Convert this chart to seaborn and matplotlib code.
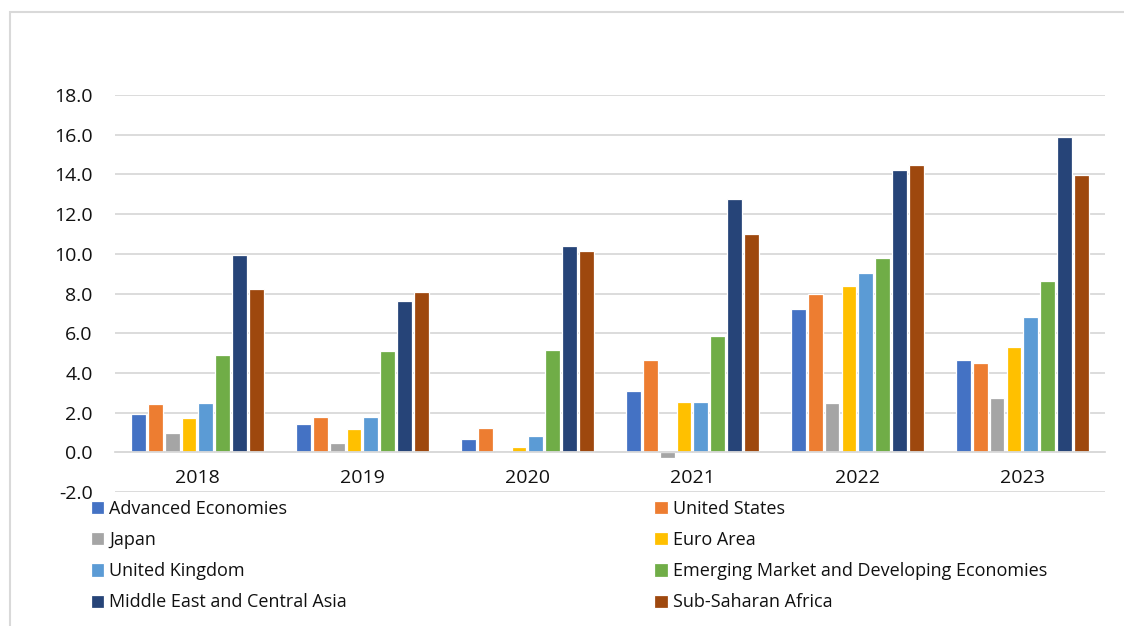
import pandas as pd
import matplotlib
matplotlib.use("Agg")
import matplotlib.pyplot as plt
import seaborn as sns
from matplotlib.patches import Rectangle
from matplotlib.ticker import FormatStrFormatter

# ==========================
# Data
# ==========================
years = ["2018", "2019", "2020", "2021", "2022", "2023"]

regions = [
    "Advanced Economies",
    "United States",
    "Japan",
    "Euro Area",
    "United Kingdom",
    "Emerging Market and Developing Economies",
    "Middle East and Central Asia",
    "Sub-Saharan Africa",
]

advanced = [1.95, 1.41, 0.67, 3.08, 7.24, 4.64]
united_states = [2.44, 1.80, 1.24, 4.66, 7.97, 4.49]
japan = [0.99, 0.47, 0.0, -0.27, 2.47, 2.71]
euro_area = [1.75, 1.19, 0.25, 2.54, 8.39, 5.29]
united_kingdom = [2.49, 1.78, 0.84, 2.54, 9.04, 6.81]
emde = [4.92, 5.12, 5.17, 5.85, 9.80, 8.61]
me_central_asia = [9.96, 7.63, 10.40, 12.76, 14.24, 15.87]
sub_saharan = [8.25, 8.10, 10.13, 11.01, 14.47, 13.97]

colors = ["#4472C4", "#ED7D31", "#A5A5A5", "#FFC000",
          "#5B9BD5", "#70AD47", "#264478", "#9E480E"]

series = [advanced, united_states, japan, euro_area,
          united_kingdom, emde, me_central_asia, sub_saharan]

# long-form table for seaborn
rows = []
for region, values in zip(regions, series):
    for year, v in zip(years, values):
        rows.append({"Year": year, "Region": region, "Value": v})
df = pd.DataFrame(rows)

# ==========================
# Plot
# ==========================
sns.set_theme(style="white")
plt.rcParams["font.family"] = ["Open Sans", "DejaVu Sans"]
text_color = "#111111"
grid_color = "#d9d9d9"

fig = plt.figure(figsize=(11.24, 6.26), dpi=100)
ax = fig.add_axes([0.1023, 0.2141, 0.8807, 0.6341])

sns.barplot(
    data=df, x="Year", y="Value", hue="Region",
    hue_order=regions, order=years, palette=colors, saturation=1,
    width=0.82, gap=0.12, edgecolor="white", linewidth=0.9,
    errorbar=None, ax=ax,
)

ax.set_ylim(-2, 18)
ax.set_yticks(range(-2, 19, 2))
ax.yaxis.set_major_formatter(FormatStrFormatter("%.1f"))
ax.set_xlabel("")
ax.set_ylabel("")

ax.set_axisbelow(True)
ax.yaxis.grid(True, color=grid_color, linewidth=1.3)
for side in ["top", "right", "left"]:
    ax.spines[side].set_visible(False)
ax.spines["bottom"].set_position(("data", 0))
ax.spines["bottom"].set_color(grid_color)
ax.spines["bottom"].set_linewidth(1.3)

ax.tick_params(axis="x", length=0, pad=12, labelsize=14, labelcolor=text_color)
ax.tick_params(axis="y", length=0, pad=16, labelsize=14, labelcolor=text_color)

# legend laid out like Excel (row-major, two columns)
handles, labels = ax.get_legend_handles_labels()
ax.get_legend().remove()
order = [0, 2, 4, 6, 1, 3, 5, 7]
fig.legend(
    [handles[i] for i in order], [labels[i] for i in order],
    ncol=2, loc="upper left", bbox_to_anchor=(0.0725, 0.2159),
    frameon=False, fontsize=13, labelcolor=text_color,
    handlelength=0.75, handleheight=0.75, handletextpad=0.3,
    labelspacing=0.73, columnspacing=17.0, borderpad=0,
)

# chart-area border
fig.patches.append(Rectangle(
    (10 / 1124, -0.05), 1.1, 1 - 12 / 626 + 0.05,
    transform=fig.transFigure, fill=False,
    edgecolor=grid_color, linewidth=1.5,
))

plt.savefig("out.png", dpi=100)
plt.close()
